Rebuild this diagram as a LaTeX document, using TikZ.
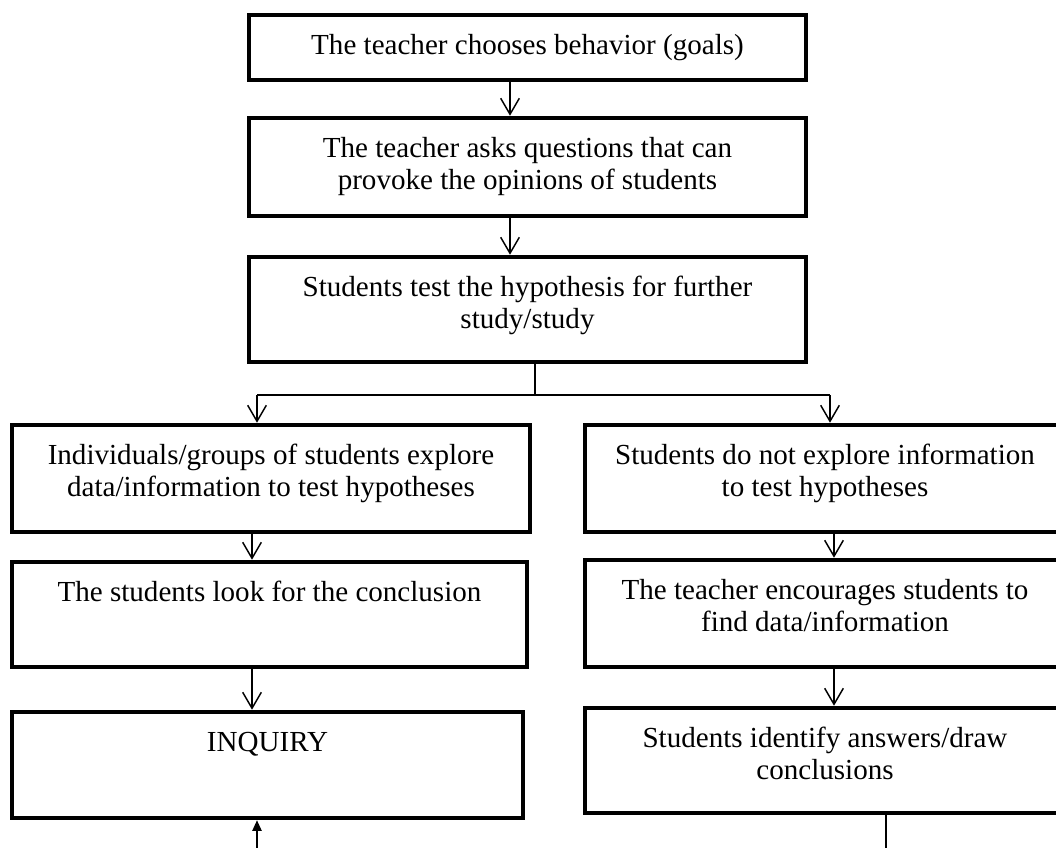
\documentclass[tikz,border=0pt]{standalone}
\usepackage{fontspec}
\setmainfont{Liberation Serif}
\usetikzlibrary{%
    arrows.meta,
    calc,
    positioning
}
\newcommand{\boxtext}[3]{\parbox[c][#2][t]{#1}{\centering\rule{0pt}{29.5pt}#3}}

\tikzset{
    stage/.style={draw, line width=3.4pt, inner sep=0pt,
        font=\fontsize{21.8}{24.2}\selectfont},
    flow/.style={line width=1.1pt, -{Straight Barb[length=12pt,width=14pt]}},
    back/.style={line width=1.1pt, -{Triangle[length=8pt,width=7pt]}}
}

\begin{document}
\begin{tikzpicture}[x=0.75pt, y=-0.75pt]
    \useasboundingbox (0,0) rectangle (1056,848);

    \node[stage] (choose) at (527.5,47.5)
        {\boxtext{417.75pt}{48.75pt}{The teacher chooses behavior (goals)}};
    \node[stage] (ask) at (527.5,167)
        {\boxtext{417.75pt}{73.5pt}{The teacher asks questions that can\\provoke the opinions of students}};
    \node[stage] (test) at (527.5,309.5)
        {\boxtext{417.75pt}{78.75pt}{Students test the hypothesis for further\\study/study}};

    \node[stage] (explore) at (271,478.5)
        {\boxtext{388.5pt}{80.25pt}{Individuals/groups of students explore\\data/information to test hypotheses}};
    \node[stage] (look) at (269.5,614.5)
        {\boxtext{386.25pt}{78.75pt}{The students look for the conclusion}};
    \node[stage] (inquiry) at (267.5,765)
        {\boxtext{383.25pt}{79.5pt}{INQUIRY}};

    \node[stage] (noexplore) at (825,478.5)
        {\boxtext{360pt}{80.25pt}{Students do not explore information\\to test hypotheses}};
    \node[stage] (encourage) at (825,613.5)
        {\boxtext{360pt}{80.25pt}{The teacher encourages students to\\find data/information}};
    \node[stage] (identify) at (825,760.5)
        {\boxtext{360pt}{78.75pt}{Students identify answers/draw\\conclusions}};

    % columns of the connectors
    \coordinate (mcol) at (510,0);
    \coordinate (lcol) at (252,0);
    \coordinate (rcol) at (834,0);
    \coordinate (split) at (535,395);
    \coordinate (splitL) at (257,395);
    \coordinate (splitR) at (830,395);
    \coordinate (loopL) at (257,852);
    \coordinate (loopR) at (886,852);

    \draw[flow] (choose.south -| mcol) -- (ask.north -| mcol);
    \draw[flow] (ask.south -| mcol) -- (test.north -| mcol);

    \draw[line width=1.1pt] (test.south -| split) -- (split);
    \draw[line width=1.1pt] (splitL) -- (splitR);
    \draw[flow] (splitL) -- (explore.north -| splitL);
    \draw[flow] (splitR) -- (noexplore.north -| splitR);

    \foreach \Source/\Target in {explore/look, look/inquiry}
        \draw[flow] (\Source.south -| lcol) -- (\Target.north -| lcol);
    \foreach \Source/\Target in {noexplore/encourage, encourage/identify}
        \draw[flow] (\Source.south -| rcol) -- (\Target.north -| rcol);

    \draw[line width=1.1pt] (identify.south -| loopR) -- (loopR);
    \draw[back] (loopL) -- (inquiry.south -| loopL);
\end{tikzpicture}
\end{document}
